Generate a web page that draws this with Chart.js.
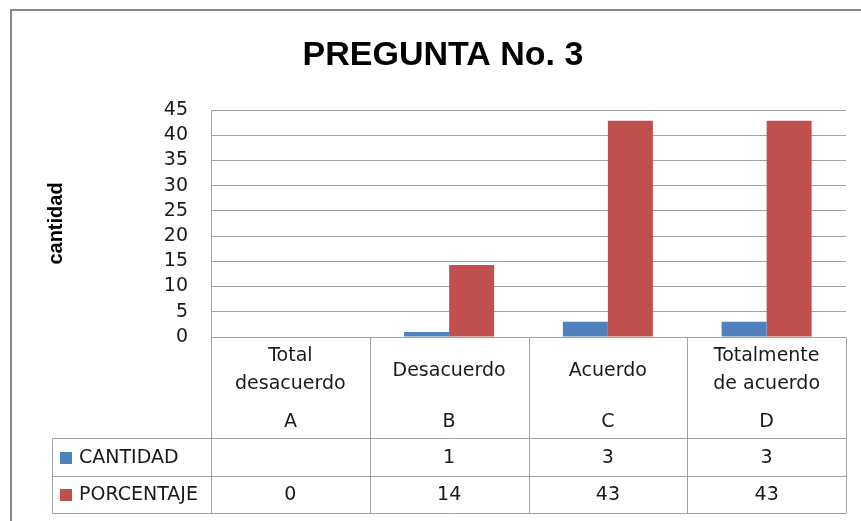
<!DOCTYPE html>
<html>
<head>
<meta charset="utf-8">
<script src="https://cdn.jsdelivr.net/npm/chart.js@4/dist/chart.umd.min.js"></script>
<style>
  html, body { margin: 0; padding: 0; background: #fff; }
  canvas { display: block; }
</style>
</head>
<body>
<canvas id="chart" width="861" height="521"></canvas>
<script>
// data
var categories = [['Total', 'desacuerdo'], ['Desacuerdo'], ['Acuerdo'], ['Totalmente', 'de acuerdo']];
var letters = ['A', 'B', 'C', 'D'];
var cantidad = [null, 1, 3, 3];
var porcentaje = [0, 14.29, 42.86, 42.86];
var yTicks = [0, 5, 10, 15, 20, 25, 30, 35, 40, 45];

var blue = '#4F81BD';
var red = '#C0504D';
var lineColor = '#a3a3a3';
var textColor = '#1a1a1a';
var tableFont = '19px "DejaVu Sans"';

var series = [
    {name: 'CANTIDAD', data: cantidad, color: blue},
    {name: 'PORCENTAJE', data: porcentaje, color: red}
];

var fmt = function(v) {
    if (v === null || v === undefined) {
        return '';
    }
    return String(Math.round(v));
};

var framePlugin = {
    id: 'frame',
    beforeDraw: function(chart) {
        var ctx = chart.ctx;
        ctx.save();
        ctx.fillStyle = '#fff';
        ctx.fillRect(0, 0, chart.width, chart.height);
        ctx.strokeStyle = '#8a8a8a';
        ctx.lineWidth = 2;
        ctx.strokeRect(11, 10, chart.width + 20, chart.height + 20);
        ctx.fillStyle = '#000';
        ctx.font = 'bold 34px "Liberation Sans"';
        ctx.textAlign = 'center';
        ctx.textBaseline = 'middle';
        ctx.fillText('PREGUNTA No. 3', 443, 56);
        ctx.restore();
    }
};

// data table under the plot, built from the x scale
var tablePlugin = {
    id: 'dataTable',
    afterDraw: function(chart) {
        var ctx = chart.ctx;
        var a = chart.chartArea;
        var xs = chart.scales.x;
        var n = categories.length;
        var w = (a.right - a.left) / n;
        var top = Math.round(a.bottom) + 0.5;
        var headBottom = 438.5, row1 = 476.5, row2 = 513.5, legLeft = 52.5;
        var rows = [headBottom, row1, row2];

        ctx.save();
        ctx.strokeStyle = lineColor;
        ctx.lineWidth = 1;
        ctx.beginPath();
        ctx.moveTo(a.left, top);
        ctx.lineTo(a.right, top);
        rows.forEach(function(y) {
            ctx.moveTo(legLeft, y);
            ctx.lineTo(a.right, y);
        });
        for (var i = 0; i <= n; i++) {
            var x = Math.round(a.left + i * w) + 0.5;
            ctx.moveTo(x, top);
            ctx.lineTo(x, row2);
        }
        ctx.moveTo(legLeft, headBottom);
        ctx.lineTo(legLeft, row2);
        ctx.stroke();

        ctx.fillStyle = textColor;
        ctx.font = tableFont;
        ctx.textAlign = 'center';
        ctx.textBaseline = 'middle';
        categories.forEach(function(lines, i) {
            var cx = xs.getPixelForValue(i);
            if (lines.length === 1) {
                ctx.fillText(lines[0], cx, 371);
            } else {
                ctx.fillText(lines[0], cx, 356);
                ctx.fillText(lines[1], cx, 384);
            }
            ctx.fillText(letters[i], cx, 422);
        });

        series.forEach(function(s, r) {
            var cy = r === 0 ? 458 : 495;
            ctx.fillStyle = s.color;
            ctx.fillRect(60, cy - 6, 12, 12);
            ctx.fillStyle = textColor;
            ctx.textAlign = 'left';
            ctx.fillText(s.name, 79, cy);
            ctx.textAlign = 'center';
            s.data.forEach(function(v, i) {
                ctx.fillText(fmt(v), xs.getPixelForValue(i), cy);
            });
        });
        ctx.restore();
    }
};

new Chart(document.getElementById('chart').getContext('2d'), {
    type: 'bar',
    data: {
        labels: categories.map(function(c) { return c.join(' '); }),
        datasets: series.map(function(s) {
            return {
                label: s.name,
                data: s.data,
                backgroundColor: s.color,
                borderWidth: 0,
                categoryPercentage: 0.567,
                barPercentage: 1
            };
        })
    },
    options: {
        responsive: false,
        animation: false,
        layout: {
            padding: {top: 110, right: 15, bottom: 184, left: 0}
        },
        plugins: {
            legend: {display: false},
            title: {display: false},
            tooltip: {enabled: false}
        },
        scales: {
            x: {
                ticks: {display: false},
                grid: {display: false, drawTicks: false},
                border: {display: false},
                afterFit: function(scale) { scale.height = 0; }
            },
            y: {
                min: yTicks[0],
                max: yTicks[yTicks.length - 1],
                afterBuildTicks: function(scale) {
                    scale.ticks = yTicks.map(function(v) { return {value: v}; });
                },
                ticks: {
                    autoSkip: false,
                    color: textColor,
                    font: {family: 'DejaVu Sans', size: 19},
                    padding: 23
                },
                grid: {color: lineColor, drawTicks: false},
                border: {color: lineColor},
                title: {
                    display: true,
                    text: 'cantidad',
                    color: '#000',
                    font: {family: 'Liberation Sans', size: 20, weight: 'bold'},
                    padding: {top: 44, bottom: 0}
                },
                afterFit: function(scale) { scale.width = 211; }
            }
        }
    },
    plugins: [framePlugin, tablePlugin]
});
</script>
</body>
</html>
